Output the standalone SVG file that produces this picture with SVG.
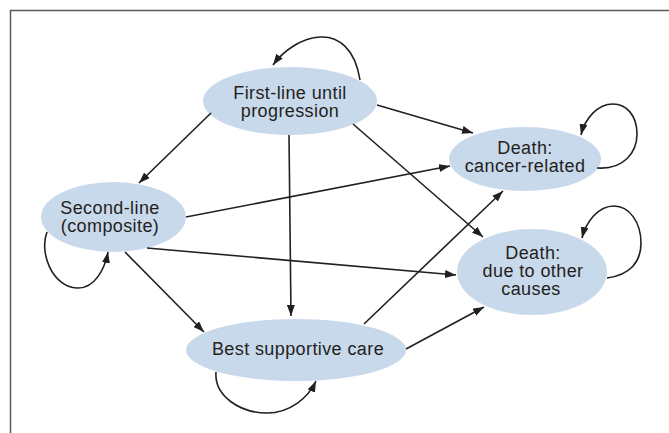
<svg xmlns="http://www.w3.org/2000/svg" width="669" height="433" viewBox="0 0 669 433">
<defs>
<marker id="ah" markerUnits="userSpaceOnUse" markerWidth="11" markerHeight="8" refX="11" refY="4" orient="auto">
<path d="M0,0 L11,4 L0,8 z" fill="#231f20"/>
</marker>
</defs>
<style>
.node ellipse{fill:#c9d9ec;}
.node text{font-family:"Liberation Sans",Arial,sans-serif;font-size:18px;letter-spacing:0.4px;fill:#231f20;text-anchor:middle;}
.edges path{fill:none;stroke:#231f20;stroke-width:1.6;marker-end:url(#ah);}
</style>
<rect width="669" height="433" fill="#ffffff"/>
<path d="M10.5,433 L10.5,10.5 L669,10.5" fill="none" stroke="#5a5a5a" stroke-width="1.5"/>
<g id="n-first" class="node">
<ellipse cx="290" cy="101" rx="87" ry="34"/>
<text x="290" y="99">First-line until</text>
<text x="290" y="117">progression</text>
</g>
<g id="n-second" class="node">
<ellipse cx="113.5" cy="217" rx="72.5" ry="35"/>
<text x="110" y="214">Second-line</text>
<text x="110" y="232">(composite)</text>
</g>
<g id="n-cancer" class="node">
<ellipse cx="525" cy="159" rx="76" ry="32"/>
<text x="525" y="154">Death:</text>
<text x="525" y="172">cancer-related</text>
</g>
<g id="n-other" class="node">
<ellipse cx="532" cy="272" rx="75" ry="43"/>
<text x="533" y="259">Death:</text>
<text x="533" y="277">due to other</text>
<text x="531" y="295">causes</text>
</g>
<g id="n-bsc" class="node">
<ellipse cx="296" cy="350" rx="110" ry="31"/>
<text x="298" y="355">Best supportive care</text>
</g>
<g id="edges" class="edges">
<path d="M211,113 L139,183"/>
<path d="M289,135 L291,316"/>
<path d="M377,105 L473,133"/>
<path d="M353,124 L483,237"/>
<path d="M186,217 L450,166"/>
<path d="M147,248 L456,275"/>
<path d="M125,252 L204,332"/>
<path d="M364,324 L503,191"/>
<path d="M406,349 L484,307"/>
<path d="M360,80 C355,48 338,36 320,37 C302,38 284,50 273,65"/>
<path d="M597,168 C624,170 637,152 637,134 C637,115 626,104 613,104 C598,104 585,118 581,135"/>
<path d="M607,278 C630,275 641,262 641,243 C641,222 629,206 614,206 C598,206 586,222 582,238"/>
<path d="M47,232 C39,252 52,287 77,288 C95,289 105,268 108,252"/>
<path d="M216,372 C214,396 240,413 267,413 C290,413 308,398 316,381"/>
</g>
</svg>
